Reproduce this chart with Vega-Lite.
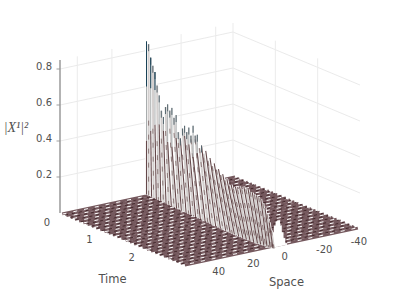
{"$schema":"https://vega.github.io/schema/vega-lite/v6.json","width":399,"height":299,"padding":0,"autosize":{"type":"none"},"background":"white","config":{"view":{"stroke":null}},
"data":{"values":[
{"kind":"gridH","line":"h2a","space":50,"time":0,"amp":0.2},{"kind":"gridH","line":"h2a","space":-50,"time":0,"amp":0.2},{"kind":"gridH","line":"h2b","space":-50,"time":0,"amp":0.2},{"kind":"gridH","line":"h2b","space":-50,"time":3,"amp":0.2},
{"kind":"gridH","line":"h4a","space":50,"time":0,"amp":0.4},{"kind":"gridH","line":"h4a","space":-50,"time":0,"amp":0.4},{"kind":"gridH","line":"h4b","space":-50,"time":0,"amp":0.4},{"kind":"gridH","line":"h4b","space":-50,"time":3,"amp":0.4},
{"kind":"gridH","line":"h6a","space":50,"time":0,"amp":0.6},{"kind":"gridH","line":"h6a","space":-50,"time":0,"amp":0.6},{"kind":"gridH","line":"h6b","space":-50,"time":0,"amp":0.6},{"kind":"gridH","line":"h6b","space":-50,"time":3,"amp":0.6},
{"kind":"gridH","line":"h8a","space":50,"time":0,"amp":0.8},{"kind":"gridH","line":"h8a","space":-50,"time":0,"amp":0.8},{"kind":"gridH","line":"h8b","space":-50,"time":0,"amp":0.8},{"kind":"gridH","line":"h8b","space":-50,"time":3,"amp":0.8},
{"kind":"gridV","space":40,"time":0,"amp":0.85},{"kind":"gridV","space":20,"time":0,"amp":0.85},{"kind":"gridV","space":0,"time":0,"amp":0.85},{"kind":"gridV","space":-20,"time":0,"amp":0.85},{"kind":"gridV","space":-40,"time":0,"amp":0.85},{"kind":"gridV","space":-50,"time":0,"amp":0.85},{"kind":"gridV","space":-50,"time":1,"amp":0.85},{"kind":"gridV","space":-50,"time":2,"amp":0.85},
{"kind":"axisZ","space":50,"time":0,"amp":0.85},
{"kind":"floor","time":0.05},{"kind":"floor","time":0.15},{"kind":"floor","time":0.25},{"kind":"floor","time":0.35},{"kind":"floor","time":0.45},{"kind":"floor","time":0.55},{"kind":"floor","time":0.65},{"kind":"floor","time":0.75},{"kind":"floor","time":0.85},{"kind":"floor","time":0.95},{"kind":"floor","time":1.05},{"kind":"floor","time":1.15},{"kind":"floor","time":1.25},{"kind":"floor","time":1.35},{"kind":"floor","time":1.45},{"kind":"floor","time":1.55},{"kind":"floor","time":1.65},{"kind":"floor","time":1.75},{"kind":"floor","time":1.85},{"kind":"floor","time":1.95},{"kind":"floor","time":2.05},{"kind":"floor","time":2.15},{"kind":"floor","time":2.25},{"kind":"floor","time":2.35},{"kind":"floor","time":2.45},{"kind":"floor","time":2.55},{"kind":"floor","time":2.65},{"kind":"floor","time":2.75},{"kind":"floor","time":2.85},{"kind":"floor","time":2.95},
{"kind":"dashA","time":0.06},{"kind":"dashA","time":0.31},{"kind":"dashA","time":0.56},{"kind":"dashA","time":0.81},{"kind":"dashA","time":1.06},{"kind":"dashA","time":1.31},{"kind":"dashA","time":1.56},{"kind":"dashA","time":1.81},{"kind":"dashA","time":2.06},{"kind":"dashA","time":2.31},{"kind":"dashA","time":2.56},{"kind":"dashA","time":2.81},
{"kind":"dashB","time":0.185},{"kind":"dashB","time":0.435},{"kind":"dashB","time":0.685},{"kind":"dashB","time":0.935},{"kind":"dashB","time":1.185},{"kind":"dashB","time":1.435},{"kind":"dashB","time":1.685},{"kind":"dashB","time":1.935},{"kind":"dashB","time":2.185},{"kind":"dashB","time":2.435},{"kind":"dashB","time":2.685},{"kind":"dashB","time":2.935},
{"kind":"dark","time":0.12},{"kind":"dark","time":0.245},{"kind":"dark","time":0.37},{"kind":"dark","time":0.495},{"kind":"dark","time":0.62},{"kind":"dark","time":0.745},{"kind":"dark","time":0.87},{"kind":"dark","time":0.995},{"kind":"dark","time":1.12},{"kind":"dark","time":1.245},{"kind":"dark","time":1.37},{"kind":"dark","time":1.495},{"kind":"dark","time":1.62},{"kind":"dark","time":1.745},{"kind":"dark","time":1.87},{"kind":"dark","time":1.995},{"kind":"dark","time":2.12},{"kind":"dark","time":2.245},{"kind":"dark","time":2.37},{"kind":"dark","time":2.495},{"kind":"dark","time":2.62},{"kind":"dark","time":2.745},{"kind":"dark","time":2.87},
{"kind":"A","time":0,"amp":0.85,"base":0},{"kind":"B","time":0.05,"amp":0.84,"base":0},{"kind":"A","time":0.1,"amp":0.77,"base":-0.003},{"kind":"B","time":0.15,"amp":0.73,"base":-0.003},{"kind":"A","time":0.2,"amp":0.7,"base":-0.005},{"kind":"B","time":0.25,"amp":0.63,"base":-0.005},{"kind":"A","time":0.3,"amp":0.58,"base":-0.006},{"kind":"B","time":0.35,"amp":0.5,"base":-0.008},{"kind":"A","time":0.4,"amp":0.47,"base":-0.01},{"kind":"B","time":0.45,"amp":0.53,"base":-0.012},{"kind":"A","time":0.5,"amp":0.55,"base":-0.014},{"kind":"B","time":0.55,"amp":0.52,"base":-0.016},{"kind":"A","time":0.6,"amp":0.54,"base":-0.018},{"kind":"B","time":0.65,"amp":0.49,"base":-0.018},{"kind":"A","time":0.7,"amp":0.51,"base":-0.02},{"kind":"B","time":0.75,"amp":0.42,"base":-0.02},{"kind":"A","time":0.8,"amp":0.39,"base":-0.022},{"kind":"B","time":0.85,"amp":0.45,"base":-0.024},{"kind":"A","time":0.9,"amp":0.47,"base":-0.024},{"kind":"B","time":0.95,"amp":0.44,"base":-0.026},{"kind":"A","time":1,"amp":0.47,"base":-0.026},{"kind":"B","time":1.05,"amp":0.43,"base":-0.028},{"kind":"A","time":1.1,"amp":0.49,"base":-0.028},{"kind":"B","time":1.15,"amp":0.44,"base":-0.03},{"kind":"A","time":1.2,"amp":0.45,"base":-0.03},{"kind":"B","time":1.25,"amp":0.38,"base":-0.032},{"kind":"A","time":1.3,"amp":0.4,"base":-0.034},{"kind":"B","time":1.35,"amp":0.36,"base":-0.036},{"kind":"A","time":1.4,"amp":0.38,"base":-0.038},{"kind":"B","time":1.45,"amp":0.33,"base":-0.04},{"kind":"A","time":1.5,"amp":0.35,"base":-0.04},{"kind":"B","time":1.55,"amp":0.31,"base":-0.042},{"kind":"A","time":1.6,"amp":0.33,"base":-0.044},{"kind":"B","time":1.65,"amp":0.3,"base":-0.044},{"kind":"A","time":1.7,"amp":0.31,"base":-0.045},{"kind":"B","time":1.75,"amp":0.28,"base":-0.045},{"kind":"A","time":1.8,"amp":0.29,"base":-0.045},{"kind":"B","time":1.85,"amp":0.26,"base":-0.045},{"kind":"A","time":1.9,"amp":0.27,"base":-0.045},{"kind":"B","time":1.95,"amp":0.24,"base":-0.045},{"kind":"A","time":2,"amp":0.25,"base":-0.045},{"kind":"B","time":2.05,"amp":0.235,"base":-0.045},{"kind":"A","time":2.1,"amp":0.25,"base":-0.042},{"kind":"B","time":2.15,"amp":0.24,"base":-0.042},{"kind":"A","time":2.2,"amp":0.26,"base":-0.04},{"kind":"B","time":2.25,"amp":0.25,"base":-0.04},{"kind":"A","time":2.3,"amp":0.27,"base":-0.038},{"kind":"B","time":2.35,"amp":0.26,"base":-0.038},{"kind":"A","time":2.4,"amp":0.265,"base":-0.036},{"kind":"B","time":2.45,"amp":0.255,"base":-0.034},{"kind":"A","time":2.5,"amp":0.255,"base":-0.032},{"kind":"B","time":2.55,"amp":0.25,"base":-0.03},{"kind":"A","time":2.6,"amp":0.25,"base":-0.028},{"kind":"B","time":2.65,"amp":0.245,"base":-0.026},{"kind":"A","time":2.7,"amp":0.24,"base":-0.024},{"kind":"B","time":2.75,"amp":0.22,"base":-0.022},{"kind":"A","time":2.8,"amp":0.2,"base":-0.02},{"kind":"B","time":2.85,"amp":0.17,"base":-0.018},{"kind":"A","time":2.9,"amp":0.13,"base":-0.014},{"kind":"B","time":2.95,"amp":0.09,"base":-0.01},
{"kind":"end","time":3,"space":1,"amp":0.06,"base":0},{"kind":"end","time":3,"space":0,"amp":0.085,"base":0},{"kind":"end","time":3,"space":-1,"amp":0.12,"base":0},{"kind":"end","time":3,"space":-2,"amp":0.14,"base":0},{"kind":"end","time":3,"space":-3,"amp":0.145,"base":0},{"kind":"end","time":3,"space":-4,"amp":0.115,"base":0},{"kind":"end","time":3,"space":-5,"amp":0.075,"base":0},{"kind":"end","time":3,"space":-6,"amp":0.04,"base":0},{"kind":"end","time":3,"space":-7,"amp":0.01,"base":0},
{"kind":"zlabel","space":50,"time":0,"amp":0.8,"label":"0.8"},{"kind":"zlabel","space":50,"time":0,"amp":0.6,"label":"0.6"},{"kind":"zlabel","space":50,"time":0,"amp":0.4,"label":"0.4"},{"kind":"zlabel","space":50,"time":0,"amp":0.2,"label":"0.2"},
{"kind":"tlabel","space":50,"time":0,"amp":0,"label":"0"},{"kind":"tlabel","space":50,"time":1,"amp":0,"label":"1"},{"kind":"tlabel","space":50,"time":2,"amp":0,"label":"2"},
{"kind":"slabel","space":40,"time":3,"amp":0,"label":"40"},{"kind":"slabel","space":20,"time":3,"amp":0,"label":"20"},{"kind":"slabel","space":0,"time":3,"amp":0,"label":"0"},{"kind":"slabel","space":-20,"time":3,"amp":0,"label":"-20"},{"kind":"slabel","space":-40,"time":3,"amp":0,"label":"-40"},
{"kind":"ttitle","space":50,"time":1.5,"amp":0,"label":"Time"},{"kind":"stitle","space":0,"time":3,"amp":0,"label":"Space"},{"kind":"ztitle","space":50,"time":0,"amp":0.47,"label":"|X¹|²"}
]},
"transform":[
{"calculate":"isValid(datum.space)?datum.space:0","as":"sp"},
{"calculate":"isValid(datum.amp)?datum.amp:0","as":"z"},
{"calculate":"isValid(datum.base)?datum.base:0","as":"zb"},
{"calculate":"60+1.73*(50-datum.sp)+42.33*datum.time","as":"X"},
{"calculate":"datum.X-260*datum.zb","as":"Xb"},
{"calculate":"213-0.37*(50-datum.sp)+17.67*datum.time","as":"Y0"},
{"calculate":"datum.Y0-180*datum.z","as":"Y"},
{"calculate":"datum.Y0-180*datum.zb","as":"Yb"},
{"calculate":"datum.Y0-180*min(datum.z,0.3+0.12*abs(sin(datum.time*37)))","as":"Ymid"},
{"calculate":"datum.Y0-180*min(datum.z,0.6)","as":"Yhi"},
{"calculate":"datum.Y+7","as":"Ycap"},
{"calculate":"60+42.33*datum.time","as":"XL"},{"calculate":"213+17.67*datum.time","as":"YL"},
{"calculate":"60+173+42.33*datum.time","as":"XR"},{"calculate":"213-37+17.67*datum.time","as":"YR"}
],
"encoding":{"x":{"field":"X","type":"quantitative","scale":{"domain":[0,399],"range":[0,399]},"axis":null},"y":{"field":"Y","type":"quantitative","scale":{"domain":[0,299],"range":[0,299]},"axis":null}},
"layer":[
{"transform":[{"filter":"datum.kind=='gridH'"}],"mark":{"type":"line","color":"#e4e4e4","strokeWidth":0.8},"encoding":{"detail":{"field":"line"}}},
{"transform":[{"filter":"datum.kind=='gridV'"}],"mark":{"type":"rule","color":"#ebebeb","strokeWidth":1},"encoding":{"y2":{"field":"Y0"}}},
{"transform":[{"filter":"datum.kind=='axisZ'"}],"mark":{"type":"rule","color":"#808080","strokeWidth":1.2},"encoding":{"y2":{"field":"Y0"}}},
{"transform":[{"filter":"datum.kind=='zlabel'"}],"mark":{"type":"tick","orient":"horizontal","color":"#555555","size":3,"thickness":0.8,"xOffset":-2}},
{"transform":[{"filter":"datum.kind=='floor'"}],"mark":{"type":"rule","color":"#75595e","strokeWidth":3},"encoding":{"x":{"field":"XL","type":"quantitative"},"y":{"field":"YL","type":"quantitative"},"x2":{"field":"XR"},"y2":{"field":"YR"}}},
{"transform":[{"filter":"datum.kind=='dark'"}],"mark":{"type":"rule","color":"#3d2226","strokeWidth":0.9,"strokeDash":[3,4]},"encoding":{"x":{"field":"XL","type":"quantitative"},"y":{"field":"YL","type":"quantitative"},"x2":{"field":"XR"},"y2":{"field":"YR"}}},
{"transform":[{"filter":"datum.kind=='dashA'"}],"mark":{"type":"rule","color":"#ffffff","strokeWidth":1,"strokeDash":[4,7]},"encoding":{"x":{"field":"XL","type":"quantitative"},"y":{"field":"YL","type":"quantitative"},"x2":{"field":"XR"},"y2":{"field":"YR"}}},
{"transform":[{"filter":"datum.kind=='dashB'"}],"mark":{"type":"rule","color":"#ffffff","strokeWidth":1,"strokeDash":[4,7],"strokeDashOffset":5},"encoding":{"x":{"field":"XL","type":"quantitative"},"y":{"field":"YL","type":"quantitative"},"x2":{"field":"XR"},"y2":{"field":"YR"}}},
{"transform":[{"filter":"datum.kind=='A'||datum.kind=='B'||datum.kind=='end'"}],"mark":{"type":"rule","color":"#ffffff","strokeWidth":2.8},"encoding":{"x2":{"field":"Xb"},"y2":{"field":"Yb"}}},
{"transform":[{"filter":"datum.kind=='B'"}],"mark":{"type":"rule","color":"#d3cfce","strokeWidth":2},"encoding":{"x2":{"field":"Xb"},"y2":{"field":"Yb"}}},
{"transform":[{"filter":"datum.kind=='B'"}],"mark":{"type":"rule","color":"#7a6262","strokeWidth":0.8,"strokeDash":[5,9]},"encoding":{"y":{"field":"Ymid","type":"quantitative"},"x2":{"field":"Xb"},"y2":{"field":"Yb"}}},
{"transform":[{"filter":"datum.kind=='A'"}],"mark":{"type":"rule","color":"#65494b","strokeWidth":1.1},"encoding":{"y":{"field":"Ymid","type":"quantitative"},"x2":{"field":"Xb"},"y2":{"field":"Yb"}}},
{"transform":[{"filter":"datum.kind=='A'&&datum.amp>0.33"}],"mark":{"type":"rule","color":"#a9adae","strokeWidth":1},"encoding":{"y2":{"field":"Ymid"}}},
{"transform":[{"filter":"(datum.kind=='A'||datum.kind=='B')&&datum.amp>0.38"}],"mark":{"type":"rule","color":"#56666e","strokeWidth":1},"encoding":{"y2":{"field":"Ycap"}}},
{"transform":[{"filter":"datum.kind=='A'&&datum.amp>0.6"}],"mark":{"type":"rule","color":"#1a4358","strokeWidth":1},"encoding":{"y2":{"field":"Yhi"}}},
{"transform":[{"filter":"datum.kind=='zlabel'"}],"mark":{"type":"text","align":"right","baseline":"middle","dx":-8,"dy":-2,"font":"DejaVu Sans","fontSize":10,"color":"#505050"},"encoding":{"text":{"field":"label"}}},
{"transform":[{"filter":"datum.kind=='tlabel'"}],"mark":{"type":"text","align":"center","baseline":"middle","dx":-13,"dy":9.5,"font":"DejaVu Sans","fontSize":10,"color":"#505050"},"encoding":{"text":{"field":"label"}}},
{"transform":[{"filter":"datum.kind=='slabel'"}],"mark":{"type":"text","align":"left","baseline":"middle","dx":8,"dy":9.5,"font":"DejaVu Sans","fontSize":10,"color":"#505050"},"encoding":{"text":{"field":"label"}}},
{"transform":[{"filter":"datum.kind=='ttitle'"}],"mark":{"type":"text","align":"center","baseline":"middle","dx":-11,"dy":40,"font":"DejaVu Sans","fontSize":11.5,"color":"#505050"},"encoding":{"text":{"field":"label"}}},
{"transform":[{"filter":"datum.kind=='stitle'"}],"mark":{"type":"text","align":"center","baseline":"middle","dx":13,"dy":35.5,"font":"DejaVu Sans","fontSize":11.5,"color":"#505050"},"encoding":{"text":{"field":"label"}}},
{"transform":[{"filter":"datum.kind=='ztitle'"}],"mark":{"type":"text","align":"center","baseline":"middle","dx":-44,"dy":0,"font":"Liberation Serif","fontStyle":"italic","fontSize":14,"color":"#505050"},"encoding":{"text":{"field":"label"}}}
]}
